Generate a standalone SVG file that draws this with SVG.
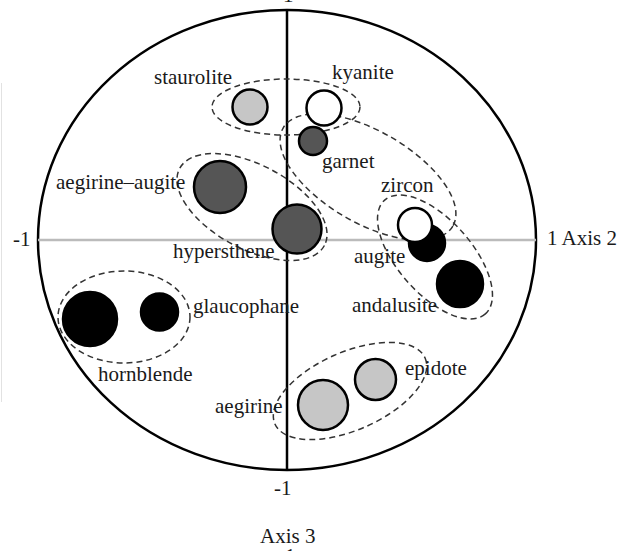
<svg xmlns="http://www.w3.org/2000/svg" width="618" height="551" viewBox="0 0 618 551">
<style>
text{font-family:"Liberation Serif","Times New Roman",serif;font-size:21px;fill:#1a1a1a}
.dot{stroke:#000;stroke-width:2.5}
.light{fill:#c6c6c6}
.dark{fill:#555}
.white{fill:#fff}
.black{fill:#000}
.grp{fill:none;stroke:#333;stroke-width:1.5;stroke-dasharray:6 4}
</style>
<rect width="618" height="551" fill="#fff"/>
<line x1="1.5" y1="83" x2="1.5" y2="402" stroke="#e2e2e2" stroke-width="1"/>
<g id="axes">
<ellipse cx="287" cy="240" rx="249" ry="230" fill="none" stroke="#000" stroke-width="2.5"/>
<line x1="38" y1="240" x2="536" y2="240" stroke="#bbb" stroke-width="2.5"/>
<line x1="287" y1="10" x2="287" y2="470" stroke="#000" stroke-width="2.5"/>
<text x="283" y="2">1</text>
<text x="13" y="246">-1</text>
<text x="547" y="245">1 Axis 2</text>
<text x="274" y="495">-1</text>
<text x="260" y="543">Axis 3</text>
<text x="285" y="563">1</text>
</g>
<g id="groups">
<ellipse class="grp" cx="286" cy="107" rx="74" ry="28"/>
<ellipse class="grp" cx="368" cy="177" rx="98" ry="46" transform="rotate(30 368 177)"/>
<ellipse class="grp" cx="252" cy="207" rx="82" ry="42" transform="rotate(28 252 207)"/>
<ellipse class="grp" cx="435" cy="257" rx="76" ry="37" transform="rotate(48.5 435 257)"/>
<ellipse class="grp" cx="350" cy="391" rx="82" ry="39" transform="rotate(-23.7 350 391)"/>
<ellipse class="grp" cx="124" cy="317" rx="66" ry="46"/>
</g>
<g id="staurolite"><circle class="dot light" cx="250" cy="107" r="17.5"/><text x="154" y="84">staurolite</text></g>
<g id="kyanite"><circle class="dot white" cx="324" cy="108" r="17.5"/><text x="332" y="79">kyanite</text></g>
<g id="garnet"><circle class="dot dark" cx="313" cy="141" r="14"/><text x="322" y="168">garnet</text></g>
<g id="aegirine-augite"><circle class="dot dark" cx="220" cy="187" r="26"/><text x="56" y="189">aegirine–augite</text></g>
<g id="hypersthene"><circle class="dot dark" cx="297" cy="229" r="24.5"/><text x="173" y="258">hypersthene</text></g>
<g id="augite"><circle class="dot black" cx="427" cy="243" r="18"/><text x="354" y="263">augite</text></g>
<g id="zircon"><circle class="dot white" cx="415" cy="225" r="17"/><text x="381" y="192">zircon</text></g>
<g id="andalusite"><circle class="dot black" cx="460" cy="284" r="23"/><text x="352" y="312">andalusite</text></g>
<g id="hornblende"><circle class="dot black" cx="90" cy="319" r="27"/><text x="98" y="381">hornblende</text></g>
<g id="glaucophane"><circle class="dot black" cx="159.5" cy="312" r="18.5"/><text x="193" y="313">glaucophane</text></g>
<g id="aegirine"><circle class="dot light" cx="323" cy="405" r="25"/><text x="215" y="413">aegirine</text></g>
<g id="epidote"><circle class="dot light" cx="375.5" cy="379.5" r="20.5"/><text x="405" y="375">epidote</text></g>
</svg>
